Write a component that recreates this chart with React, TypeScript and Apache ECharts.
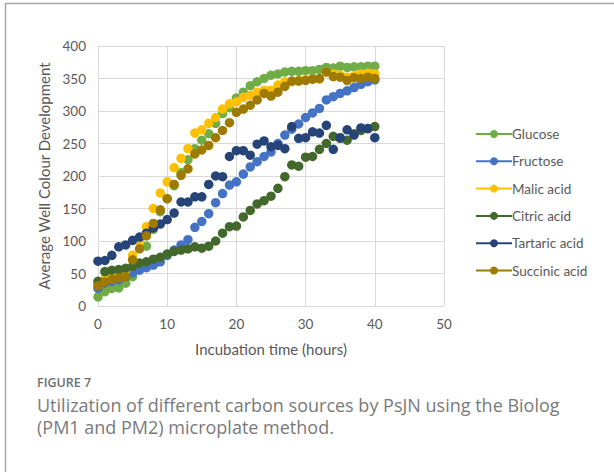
import React, { useEffect, useRef } from "react";
import * as echarts from "echarts";

const hours = Array.from({ length: 41 }, (_, i) => i);
const seriesNames = ["Glucose", "Fructose", "Malic acid", "Citric acid", "Tartaric acid", "Succinic acid"];
const seriesColors = ["#70AD47", "#4472C4", "#FFC000", "#43682B", "#264478", "#9E7A00"];

const glucose = [14, 22, 27, 28, 35, 45, 62, 92, 118, 145, 165, 185, 205, 225, 242, 255, 265, 281, 296, 305, 320, 329, 339, 345, 350, 355, 357, 360, 361, 361, 362, 362, 364, 367, 366, 369, 367, 368, 368, 369, 369];
const fructose = [27, 35, 38, 40, 45, 51, 55, 59, 63, 68, 78, 86, 94, 102, 121, 130, 142, 159, 173, 186, 191, 203, 214, 222, 230, 237, 250, 263, 272, 280, 290, 297, 304, 317, 322, 327, 331, 336, 341, 345, 348];
const malic = [35, 42, 45, 48, 55, 78, 99, 122, 150, 174, 191, 213, 227, 242, 266, 271, 281, 290, 303, 311, 314, 321, 324, 329, 332, 332, 340, 345, 345, 347, 348, 349, 349, 360, 357, 355, 352, 354, 357, 358, 357];
const citric = [38, 53, 55, 56, 58, 61, 66, 68, 72, 75, 80, 84, 86, 88, 91, 89, 92, 100, 112, 122, 123, 137, 147, 157, 162, 169, 181, 199, 217, 215, 229, 230, 241, 250, 261, 258, 255, 265, 270, 273, 276];
const tartaric = [69, 70, 78, 91, 94, 101, 106, 112, 120, 126, 133, 143, 160, 160, 168, 168, 187, 200, 199, 230, 239, 239, 232, 249, 254, 245, 247, 242, 276, 258, 259, 268, 266, 278, 241, 259, 271, 263, 274, 273, 259];
const succinic = [31, 37, 41, 43, 45, 71, 88, 108, 127, 148, 165, 187, 201, 211, 234, 240, 247, 259, 270, 282, 298, 303, 309, 317, 327, 323, 329, 338, 346, 346, 347, 349, 350, 360, 353, 352, 347, 351, 350, 352, 350];
const allValues = [glucose, fructose, malic, citric, tartaric, succinic];

const xTicks = { min: 0, max: 50, interval: 10 };
const yTicks = { min: 0, max: 400, interval: 50 };

const xTitle = "Incubation time (hours)";
const yTitle = "Average Well Colour Development";
const figLabel = "FIGURE 7";
const captionLines = [
  "Utilization of different carbon sources by PsJN using the Biolog",
  "(PM1 and PM2) microplate method.",
];

export default function App() {
  const ref = useRef<HTMLDivElement>(null);
  useEffect(() => {
    if (!ref.current) return;
    const chart = echarts.init(ref.current, undefined, { renderer: "svg" });
    const axisFont = "Lato, 'Noto Sans', sans-serif";
    chart.setOption({
      animation: false,
      backgroundColor: "#ffffff",
      grid: { left: 98, right: 170, top: 46, bottom: 166, containLabel: false },
      xAxis: {
        type: "value",
        min: xTicks.min,
        max: xTicks.max,
        interval: xTicks.interval,
        name: xTitle,
        nameLocation: "middle",
        nameGap: 35,
        nameTextStyle: { color: "#595959", fontSize: 15, fontFamily: axisFont },
        axisLine: { show: true, lineStyle: { color: "#d9d9d9", width: 1 } },
        axisTick: { show: false },
        axisLabel: { color: "#595959", fontSize: 13.5, fontFamily: axisFont, margin: 11 },
        splitLine: { show: true, lineStyle: { color: "#d9d9d9", width: 1 } },
      },
      yAxis: {
        type: "value",
        min: yTicks.min,
        max: yTicks.max,
        interval: yTicks.interval,
        name: yTitle,
        nameLocation: "middle",
        nameGap: 40,
        nameTextStyle: { color: "#595959", fontSize: 15, fontFamily: axisFont },
        axisLine: { show: true, lineStyle: { color: "#d9d9d9", width: 1 } },
        axisTick: { show: false },
        axisLabel: { color: "#595959", fontSize: 13.5, fontFamily: axisFont, margin: 12 },
        splitLine: { show: true, lineStyle: { color: "#d9d9d9", width: 1 } },
      },
      legend: {
        orient: "vertical",
        left: 470,
        top: 122,
        itemWidth: 36,
        itemHeight: 10,
        itemGap: 13.3,
        data: seriesNames,
        textStyle: { color: "#595959", fontSize: 13.5, fontFamily: axisFont, padding: [0, 0, 0, -5] },
        lineStyle: { width: 2, opacity: 1 },
      },
      series: seriesNames.map((name, i) => ({
        name,
        type: "line",
        data: hours.map((h, j) => [h, allValues[i][j]]),
        symbol: "circle",
        symbolSize: 9.5,
        showSymbol: true,
        color: seriesColors[i],
        itemStyle: { color: seriesColors[i] },
        lineStyle: { color: seriesColors[i], width: 2, opacity: 0 },
        emphasis: { disabled: true },
      })),
      graphic: [
        { type: "line", shape: { x1: 5, y1: 3.5, x2: 614, y2: 3.5 }, style: { stroke: "#a6a6a6", lineWidth: 1.5 } },
        { type: "line", shape: { x1: 5.5, y1: 3, x2: 5.5, y2: 472 }, style: { stroke: "#a6a6a6", lineWidth: 1.5 } },
        {
          type: "text",
          left: 37,
          top: 376,
          style: { text: figLabel, fill: "#6e6e6e", fontSize: 12.5, fontWeight: 600, fontFamily: "'Open Sans', sans-serif" },
        },
        ...captionLines.map((t, k) => ({
          type: "text",
          left: 37,
          top: 396 + k * 22,
          style: { text: t, fill: "#7a7a7a", fontSize: 18, fontFamily: "'Open Sans', sans-serif" },
        })),
      ],
    });
    return () => chart.dispose();
  }, []);
  return <div ref={ref} style={{ position: "fixed", left: 0, top: 0, width: 614, height: 472 }} />;
}
